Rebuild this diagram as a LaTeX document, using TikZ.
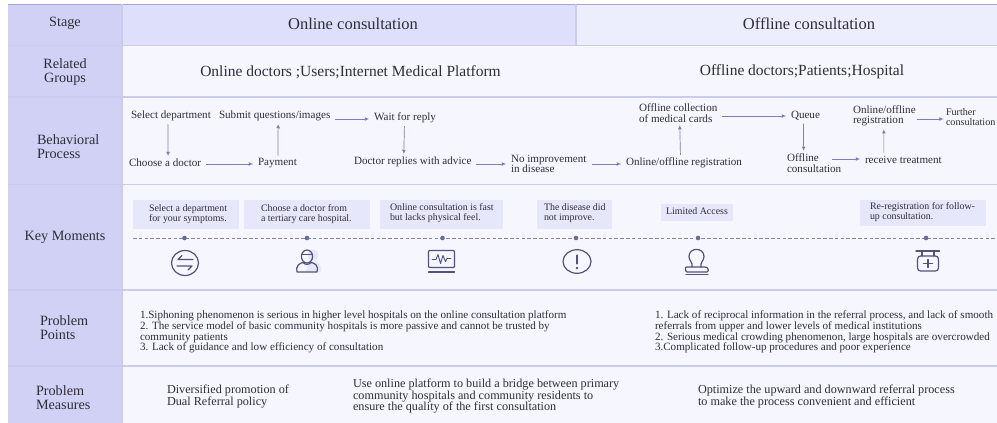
\documentclass[tikz,border=0pt]{standalone}
\usepackage{fontspec}
\setmainfont{Liberation Serif}
\usetikzlibrary{arrows.meta}
\definecolor{leftc}{HTML}{D0D1F4}
\definecolor{onc}{HTML}{DEDFFA}
\definecolor{offc}{HTML}{EDEEFD}
\definecolor{bodyc}{HTML}{F5F6FE}
\definecolor{rulec}{HTML}{CBCCEC}
\definecolor{topc}{HTML}{A4A6D2}
\definecolor{boxc}{HTML}{E6E7FA}
\definecolor{arrc}{HTML}{7C7EB8}
\definecolor{iconc}{HTML}{51527F}
\definecolor{txt}{HTML}{2E2E38}
\tikzset{
  x=1pt,y=-1pt,
  every node/.style={text=txt,inner sep=0pt,outer sep=0pt},
  head/.style={font=\fontsize{16.5}{18}\selectfont,anchor=center},
  group/.style={font=\fontsize{15.5}{18}\selectfont,anchor=center},
  side/.style={font=\fontsize{14.2}{14}\selectfont,align=left},
  sidec/.style={font=\fontsize{14.2}{14}\selectfont,align=center},
  flow/.style={font=\fontsize{11.1}{10.3}\selectfont,align=left,anchor=west},
  keyt/.style={font=\fontsize{9.9}{9.8}\selectfont,align=left,anchor=west},
  probt/.style={font=\fontsize{11.1}{10.6}\selectfont,align=left,anchor=west},
  meas/.style={font=\fontsize{12.2}{11.5}\selectfont,align=left,anchor=west},
  arr/.style={draw=arrc,line width=.7pt,-{Latex[length=4.2pt,width=3.8pt]},shorten <=5pt,shorten >=5pt},
  arv/.style={arr,shorten <=3pt,shorten >=3pt},
  dotn/.style={circle,fill=iconc!85!white,minimum size=4.6pt},
  icon/.style={draw=iconc,line width=1.2pt,line cap=round,line join=round},
  rowline/.style={draw=rulec,line width=1.1pt},
}
\begin{document}
\begin{tikzpicture}
\useasboundingbox (0,0) rectangle (997,423);
\fill[white] (0,0) rectangle (997,423);
% backgrounds
\fill[bodyc] (122,46) rectangle (997,423);
\fill[leftc] (8,4) rectangle (122,423);
\fill[onc] (122,4) rectangle (576,46);
\fill[offc] (576,4) rectangle (997,46);
\draw[topc,line width=1pt] (8,4.5) -- (997,4.5);
\draw[rowline] (8,45.5) -- (997,45.5);
\draw[rowline] (8,97) -- (997,97);
\draw[rowline] (8,184.5) -- (997,184.5);
\draw[rowline] (8,290) -- (997,290);
\draw[rowline] (8,366) -- (997,366);
\draw[rowline] (122,4) -- (122,423);
\draw[rowline] (576,4) -- (576,46);
% left labels
\node[sidec] (lstage) at (65,23.5) {Stage};
\node[sidec] (lrel) at (65,72) {Related\\Groups};
\node[side,anchor=west] (lbeh) at (37,147) {Behavioral\\Process};
\node[sidec] (lkey) at (65,237.5) {Key Moments};
\node[side,anchor=west] (lpp) at (40,328) {Problem\\Points};
\node[side,anchor=west] (lpm) at (36,398) {Problem\\Measures};
% headers
\node[head] (hon) at (353,24) {Online consultation};
\node[head] (hoff) at (809,24) {Offline consultation};
\node[group] (gon) at (350.5,72) {Online doctors ;Users;Internet Medical Platform};
\node[group] (goff) at (802,72) {Offline doctors;Patients;Hospital};
% flow
\node[flow] (sel) at (131,116) {Select department};
\node[flow] (cho) at (129,163) {Choose a doctor};
\node[flow] (pay) at (258,163.5) {Payment};
\node[flow] (sub) at (219,116) {Submit questions/images};
\node[flow] (wait) at (374,118) {Wait for reply};
\node[flow] (rep) at (354,162) {Doctor replies with advice};
\node[flow] (noi) at (511,164) {No improvement\\in disease};
\node[flow] (reg) at (626,163) {Online/offline registration};
\node[flow] (col) at (639,113) {Offline collection\\of medical cards};
\node[flow] (que) at (791,116) {Queue};
\node[flow] (ofc) at (787,163) {Offline\\consultation};
\node[flow] (rec) at (865,159.5) {receive treatment};
\node[flow] (reg2) at (853,116) {Online/offline\\registration};
\node[flow,font=\fontsize{10.1}{10.3}\selectfont] (fur) at (946,117) {Further\\consultation};
\draw[arv] ([xshift=-3pt]sel.south) -- ([xshift=3pt]cho.north);
\draw[arr] ([yshift=-1pt]cho.east) -- ([yshift=-.5pt]pay.west);
\draw[arv] ([xshift=.5pt]pay.north) -- ([xshift=3.5pt]sub.south);
\draw[arr] ([yshift=-3pt]sub.east) -- ([yshift=-1pt]wait.west);
\draw[arv] ([xshift=-.5pt]wait.south) -- ([xshift=-9pt]rep.north);
\draw[arr] ([yshift=-2pt]rep.east) -- (noi.west);
\draw[arr] (noi.east) -- ([yshift=-1pt]reg.west);
\draw[arv] ([xshift=-3.5pt]reg.north) -- ([xshift=1.5pt]col.south);
\draw[arr] ([yshift=-3pt]col.east) -- (que.west);
\draw[arv] ([xshift=-2pt]que.south) -- ([xshift=-10.5pt]ofc.north);
\draw[arr] ([xshift=-14pt,yshift=4pt]ofc.east) -- ([yshift=.5pt]rec.west);
\draw[arv] ([xshift=-19.5pt]rec.north) -- ([xshift=-.5pt]reg2.south);
\draw[arr,shorten >=2.5pt,shorten <=1pt] ([yshift=-3pt]reg2.east) -- ([yshift=-2pt]fur.west);
% key moment boxes
\fill[boxc] (133,200) rectangle (239,229);
\fill[boxc] (244,200) rectangle (370,229);
\fill[boxc] (380,199.5) rectangle (503,229);
\fill[boxc] (537,200) rectangle (612,229);
\fill[boxc] (661,204) rectangle (733,221);
\fill[boxc] (860,200) rectangle (986,226);
\node[keyt] (k1) at (149,214) {Select a department\\for your symptoms.};
\node[keyt] (k2) at (261,214) {Choose a doctor from\\a tertiary care hospital.};
\node[keyt] (k3) at (390,213) {Online consultation is fast\\but lacks physical feel.};
\node[keyt] (k4) at (544,213.5) {The disease did\\not improve.};
\node[keyt] (k5) at (666,211.5) {Limited Access};
\node[keyt] (k6) at (870,212) {Re-registration for follow-\\up consultation.};
% timeline
\coordinate (tl) at (133,238);
\coordinate (tr) at (997,238);
\draw[iconc!70!white,line width=.8pt,dash pattern=on 3.6pt off 2.2pt] (tl) -- (tr);
\foreach \n/\x in {d1/184.5,d2/307,d3/442.5,d4/576,d5/698,d6/926}
  \node[dotn] (\n) at (\x,238) {};
% icon 1
\draw[icon] (185,263) ellipse (13.5 and 12.5);
\draw[icon] (193,259.5) -- (178,259.5) -- (182,255.5);
\draw[icon] (177,266) -- (192,266) -- (188,270);
% icon 2
\fill[boxc] (313,255) circle (5.5);
\fill[boxc] (305,272) -- (321,272) .. controls (323,266) and (318,261) .. (311,261) -- cycle;
\draw[icon] (307,256.5) ellipse (5.6 and 6.5);
\draw[icon] (302,254.5) -- (312,254.5);
\draw[icon] (297,272) .. controls (295,266) and (300,263) .. (303,262.5)
   .. controls (305,265) and (309,265) .. (311,262.5)
   .. controls (315,263) and (319,266) .. (317,272) -- cycle;
% icon 3
\draw[icon,rounded corners=1pt] (428.5,250.5) rectangle (454.5,267.5);
\draw[icon,line width=.9pt] (432,259.5) -- (436,259.5) -- (438,254.5) -- (440.5,263.5) -- (443,255.5) -- (445.5,261.5) -- (447,258.5) -- (451,258.5);
\draw[icon] (428.5,272) -- (454.5,272);
% icon 4
\draw[icon] (577,261.5) ellipse (14 and 11.8);
\draw[iconc,line width=2.2pt,line cap=round] (577,255.5) -- (577,263.5);
\fill[iconc] (577,268) circle (1.4);
% icon 5
\draw[icon] (692,267) .. controls (693,262) and (689,261) .. (689,256.5)
  .. controls (689,247) and (704,247) .. (704,256.5)
  .. controls (704,261) and (700,262) .. (701,267);
\draw[icon,rounded corners=1.5pt] (685.5,272) -- (685.5,269) .. controls (685.5,267) and (687,267) .. (692,267) -- (701,267) .. controls (706,267) and (708,267) .. (708.5,272) -- cycle;
\draw[icon] (686,274.5) -- (708,274.5);
% icon 6
\draw[icon] (916,251) -- (939.5,251);
\draw[icon] (922,251) -- (922,256);
\draw[icon] (934,251) -- (934,256);
\draw[icon,rounded corners=3pt] (917.5,256) rectangle (938.5,271);
\draw[icon] (923.5,263.5) -- (932.5,263.5);
\draw[icon] (928,259.5) -- (928,267.5);
% problem points
\node[probt] (pp1) at (140,332) {1.Siphoning phenomenon is serious in higher level hospitals on the online consultation platform\\2. The service model of basic community hospitals is more passive and cannot be trusted by\\community patients\\3. Lack of guidance and low efficiency of consultation};
\node[probt] (pp2) at (655,332) {1. Lack of reciprocal information in the referral process, and lack of smooth\\referrals from upper and lower levels of medical institutions\\2. Serious medical crowding phenomenon, large hospitals are overcrowded\\3.Complicated follow-up procedures and poor experience};
% measures
\node[meas] (m1) at (167,396.5) {Diversified promotion of\\Dual Referral policy};
\node[meas] (m2) at (353,396.5) {Use online platform to build a bridge between primary\\community hospitals and community residents to\\ensure the quality of the first consultation};
\node[meas] (m3) at (698,396.5) {Optimize the upward and downward referral process\\to make the process convenient and efficient};
\end{tikzpicture}
\end{document}
